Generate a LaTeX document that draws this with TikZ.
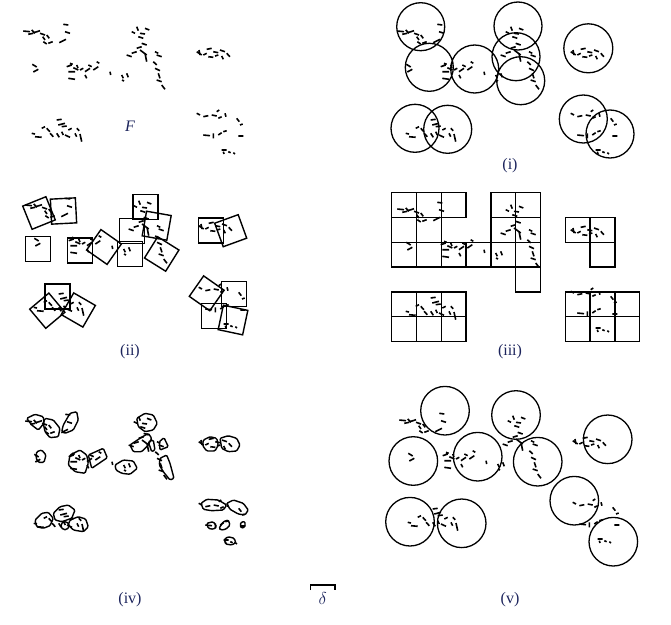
\documentclass[tikz,border=0pt]{standalone}
\usepackage{fontspec}
\setmainfont{Liberation Serif}
\usetikzlibrary{positioning}
\definecolor{tagblue}{RGB}{28,36,92}

\newcommand{\fractalF}{%
  \draw[bit]
    (23.3,31)--(30,31.7) (28.3,34.3)--(33.3,33.3) (31.7,30)--(35,33.3)
    (35,32.3)--(40,30.7) (40,33.3)--(45,35) (42.7,36.7)--(45,40)
    (43.3,41.7)--(46.7,44) (48.3,43.3)--(52.7,41.7) (46.7,35)--(49.3,38.3)
    (63.3,24.3)--(68.3,25) (65,31.7)--(70,33.3) (59.3,42.7)--(66,39.3)
    (32.3,64.3)--(36.7,67) (33.3,72)--(38.3,69.3)
    (66.7,66.7)--(71.7,65) (70,63.3)--(72.7,64.3) (73.3,67.7)--(78.3,70)
    (68.3,71.7)--(75,71.7) (68.3,78.3)--(75,79.3) (80,70)--(83.3,68.3)
    (85,71.7)--(90,68.3) (88.3,65)--(91.7,66.7) (93.3,70)--(98.3,66.7)
    (96.7,61.7)--(99.3,63.3) (85,75)--(86.7,78.3) (76.7,65)--(78,68)
    (131.7,31.7)--(135,33.3) (136.7,26.7)--(138.3,30.7) (140,33.3)--(145,34)
    (145,28.3)--(149.3,30) (138.3,36.7)--(143.3,38.3) (141.7,43.3)--(146.7,45)
    (136.7,48.3)--(141.7,46.7) (126.7,55)--(131.7,56.7) (131.7,53.3)--(136.7,51.7)
    (140,50)--(146.7,55) (145,53.3)--(146.7,61.7) (155,51.7)--(158.3,53.3)
    (156.7,55)--(161.7,56.7) (153.3,61.7)--(156.7,65) (155,68.3)--(160,70.7)
    (158.3,73.3)--(160,78.3) (156.7,80)--(161.7,81.7) (161.7,85)--(165,89.3)
    (110,71.7)--(110.7,75) (121.7,75)--(123.3,78.3) (126.7,73.3)--(128.3,77.3)
    (122,80)--(124,81)
    (196.7,51.7)--(201.7,55) (199,50)--(200,55) (203.3,55)--(206.7,53.3)
    (206.7,49.3)--(211.7,48.3) (213.3,51.7)--(218.3,52.7) (220,50)--(225,51.7)
    (226.7,53.3)--(230,56.7) (221.7,56)--(223.3,59.3) (208.3,56.7)--(213.3,57.3)
    (215,56)--(218.3,55)
    (31.7,133.3)--(35,134) (35,136.7)--(41.7,137.3) (41.7,128.3)--(45,126.7)
    (46.7,128.3)--(50,131.7) (50,133.3)--(53.3,136.7) (56.7,120)--(61.7,119.3)
    (58.3,125)--(65,123.3) (61.7,126.7)--(66.7,126) (56.7,133.3)--(59.3,137.3)
    (61.7,131.7)--(63.3,135) (65,135)--(70,137.3) (68.3,130)--(71.7,128.3)
    (75,133.3)--(76.7,136.7) (80,134)--(81.7,141.7) (76.7,128.3)--(79.3,130.7)
    (196.7,113.3)--(200,115) (203.3,116.7)--(208.3,115.7) (211.7,115)--(216.7,116)
    (216.7,111.7)--(219.3,110) (218.3,118.3)--(221.7,116.7) (225,113.3)--(226,116.7)
    (236.7,118.3)--(239.3,121.7) (240,125)--(242.7,124) (203.3,135)--(210,135.7)
    (213.3,133.3)--(213.3,138.3) (218.3,135)--(221.7,132.7) (223.3,131.7)--(226.7,130.7)
    (238.3,136)--(243.3,136) (221.7,150)--(226.7,150) (223.3,151.7)--(224,154)
    (228.3,151.7)--(230.7,152.7) (233.3,152.7)--(235,154);}

\begin{document}
\begin{tikzpicture}[x=1pt,y=-1pt,
  bit/.style={line width=1.6pt},
  ring/.style={line width=1.3pt},
  cell/.style={draw,line width=1.4pt,minimum size=25pt,inner sep=0pt},
  mesh/.style={line width=1.4pt},
  blob/.style={line width=1.4pt,rounded corners=1.2pt},
  tag/.style={text=tagblue,font=\fontsize{16}{18}\selectfont,inner sep=0pt}]
  \useasboundingbox (0,0) rectangle (671,624);

  \fractalF
  \node[tag] (lblF) at (130,126) {\itshape F};

  \begin{scope}[shift={(374,0)}]
    \fractalF
  \end{scope}
  \draw[ring] (420.7,26.7) circle (24pt) (429.3,67.3) circle (24pt)
    (474.7,69) circle (24pt) (518,26) circle (24pt) (516,56.7) circle (24pt)
    (520.7,80.7) circle (24pt) (588.3,48.3) circle (24.5pt)
    (415,128.3) circle (24pt) (447.7,129.3) circle (24pt)
    (583.3,119) circle (24pt) (610,134) circle (24pt);
  \node[tag] (lbli) at (510,166) {(i)};

  \begin{scope}[shift={(2,174)}]
    \fractalF
  \end{scope}
  \node[cell,rotate=22] (s1) at (39,213) {};
  \node[cell,rotate=3] (s2) at (63.5,211) {};
  \node[cell] (s3) at (38,249) {};
  \node[cell] (s4) at (80,250.5) {};
  \node[cell,rotate=-35] (s5) at (104,247) {};
  \node[cell] (s6) at (145.5,207) {};
  \node[cell] (s7) at (132,231) {};
  \node[cell,rotate=-10] (s8) at (156.7,225.7) {};
  \node[cell] (s9) at (130,254) {};
  \node[cell,rotate=-32] (s10) at (161.7,254) {};
  \node[cell] (s11) at (211,230.5) {};
  \node[cell,rotate=20] (s12) at (230.7,230.7) {};
  \node[cell] (s13) at (57.5,296.5) {};
  \node[cell,rotate=40] (s14) at (47.3,310.7) {};
  \node[cell,rotate=-30] (s15) at (78.3,310) {};
  \node[cell,rotate=-35] (s16) at (206.7,293.3) {};
  \node[cell] (s17) at (234,294) {};
  \node[cell] (s18) at (214,316) {};
  \node[cell,rotate=-12] (s19) at (233,320) {};
  \node[tag] (lblii) at (130,352) {(ii)};

  \begin{scope}[shift={(374,178)}]
    \fractalF
  \end{scope}
  \begin{scope}[shift={(391.7,192.7)},x=24.8pt,y=-24.8pt]
    \draw[mesh] (0,0) rectangle (1,1) (1,0) rectangle (2,1) (2,0) rectangle (3,1)
      (4,0) rectangle (5,1) (5,0) rectangle (6,1)
      (0,1) rectangle (1,2) (1,1) rectangle (2,2) (4,1) rectangle (5,2)
      (5,1) rectangle (6,2) (7,1) rectangle (8,2) (8,1) rectangle (9,2)
      (0,2) rectangle (1,3) (1,2) rectangle (2,3) (2,2) rectangle (3,3)
      (3,2) rectangle (4,3) (4,2) rectangle (5,3) (5,2) rectangle (6,3)
      (8,2) rectangle (9,3) (5,3) rectangle (6,4)
      (0,4) rectangle (1,5) (1,4) rectangle (2,5) (2,4) rectangle (3,5)
      (7,4) rectangle (8,5) (8,4) rectangle (9,5) (9,4) rectangle (10,5)
      (0,5) rectangle (1,6) (1,5) rectangle (2,6) (2,5) rectangle (3,6)
      (7,5) rectangle (8,6) (8,5) rectangle (9,6) (9,5) rectangle (10,6);
  \end{scope}
  \node[tag] (lbliii) at (510,352) {(iii)};

  \begin{scope}[shift={(2,390)}]
    \fractalF
  \end{scope}
  \draw[blob] (26.7,418.3)--(35,414.3)--(43.3,416.7)--(44,423.3)--(38.3,430)--(31.7,425)--cycle;
  \draw[blob] (45,418.3)--(53.3,420)--(60,428.3)--(58.3,436.7)--(50,437.7)--(45,431.7)--(43.3,423.3)--cycle;
  \draw[blob] (63.3,425)--(70,413.3)--(76.7,411.7)--(78.3,420)--(73.3,430)--(65,433.3)--(61.7,431.7)--cycle;
  \draw[blob] (36.7,451.7)--(41.7,450)--(46,455)--(44,462.3)--(38.3,462.3)--(36,457.7)--cycle;
  \draw[blob] (70,455)--(80,450)--(86.7,455)--(88.3,463.3)--(85,473.3)--(75,471.7)--(68.3,465)--cycle;
  \draw[blob] (88.3,455)--(103.3,448.3)--(107.3,457.7)--(91.7,468.3)--cycle;
  \draw[blob] (115,465)--(123.3,460)--(133.3,461)--(137.3,468.3)--(130,474.3)--(121.7,473.3)--(116,470)--cycle;
  \draw[blob] (136.7,418.3)--(145,413.3)--(153.3,415)--(157.3,423.3)--(153.3,430)--(145,431.7)--(138.3,426.7)--cycle;
  \draw[blob] (130,445)--(140,438.3)--(148.3,433.3)--(151.7,438.3)--(148.3,445)--(141.7,451.7)--(133.3,451.7)--cycle;
  \draw[blob] (148.3,441.7)--(153.3,440)--(155,450)--(151.7,451.7)--cycle;
  \draw[blob] (159.3,441.7)--(164,437.7)--(168.3,446.7)--(160,450)--cycle;
  \draw[blob] (160,458.3)--(166.7,455)--(170,463.3)--(174,478.3)--(170,480)--(163.3,471.7)--(159.3,465)--cycle;
  \draw[blob] (203.3,440)--(210,436.7)--(216.7,438.3)--(218.3,445)--(215,451)--(206.7,451)--(202.7,445.7)--cycle;
  \draw[blob] (220,438.3)--(228.3,435.7)--(236.7,438.3)--(240,445)--(236.7,451)--(228.3,451.7)--(221.7,448.3)--cycle;
  \draw[blob] (35,520)--(41.7,513.3)--(48.3,512.3)--(53.3,518.3)--(50,525.7)--(43.3,528.3)--(36.7,526.7)--cycle;
  \draw[blob] (53.3,513.3)--(60,506.7)--(68.3,505)--(75,510)--(71.7,518.3)--(61.7,521.7)--(55,520)--cycle;
  \draw[blob] (65,525.7) circle (4pt);
  \draw[blob] (70,520)--(78.3,516.7)--(85.7,519)--(88.3,526.7)--(83.3,531.7)--(73.3,530)--(68.3,525)--cycle;
  \draw[blob] (201,503.3)--(206.7,499.3)--(218.3,500)--(226.7,505)--(223.3,510)--(211.7,510.7)--(203.3,509.3)--cycle;
  \draw[blob] (226.7,503.3)--(233.3,500)--(243.3,503.3)--(248.3,510)--(245,515)--(238.3,514)--(230,509.3)--cycle;
  \draw[blob] (206.7,523.3)--(213.3,521.7)--(216.7,526.7)--(213.3,529.3)--(208.3,528.3)--cycle;
  \draw[blob] (219,528.3)--(223.3,521.7)--(228.3,520)--(230,525)--(225.7,529.3)--(221,530)--cycle;
  \draw[blob] (240,525)--(241.7,521.7)--(245,521.7)--(245,526.7)--(241.7,528.3)--cycle;
  \draw[blob] (224.3,539.3)--(228.3,536.7)--(234.3,538.3)--(235.7,542.7)--(231.7,545)--(225.7,544)--cycle;
  \node[tag] (lbliv) at (130,600) {(iv)};

  \begin{scope}[shift={(376,389)}]
    \fractalF
  \end{scope}
  \draw[ring] (445,410.7) circle (24.3pt) (413.3,461) circle (24.3pt)
    (477.7,456.7) circle (24.3pt) (516,415) circle (24.3pt)
    (537.7,461.7) circle (24.3pt) (607.7,439.3) circle (24.3pt)
    (574.3,500.7) circle (24.3pt) (613.3,541.7) circle (24.3pt)
    (410,521.7) circle (24.3pt) (461.7,523.3) circle (24.3pt);
  \node[tag] (lblv) at (510,600) {(v)};

  \coordinate (dl) at (310.7,585);
  \coordinate (dr) at (335,585);
  \draw[line width=1.2pt] ([yshift=-5pt]dl) -- (dl) -- (dr) -- ([yshift=-5pt]dr);
  \node[tag] (lbldelta) at (322.8,598) {$\delta$};
\end{tikzpicture}
\end{document}
